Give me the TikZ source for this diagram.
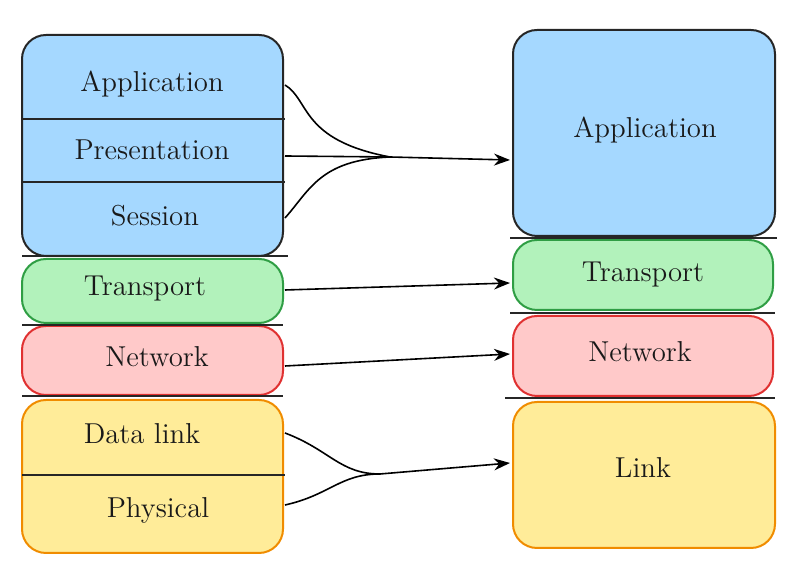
\documentclass[tikz,border=0pt]{standalone}
\usepackage{tikz}
\usetikzlibrary{arrows.meta}
\definecolor{appfill}{HTML}{A5D8FF}
\definecolor{trfill}{HTML}{B2F2BB}
\definecolor{trline}{HTML}{2F9E44}
\definecolor{netfill}{HTML}{FFC9C9}
\definecolor{netline}{HTML}{E03131}
\definecolor{linkfill}{HTML}{FFEC99}
\definecolor{linkline}{HTML}{F08C00}
\tikzstyle{layer} = [rounded corners=12, line width=1pt]
\tikzstyle{layertext} = [font=\Large, text=black!90]
\tikzstyle{sep} = [line width=0.8pt, black!85]
\tikzstyle{arrow} = [line width=0.8pt,-{Stealth[length=8pt,width=6pt]}]

\begin{document}
\begin{tikzpicture}[x=0.5pt,y=-0.5pt]
\useasboundingbox (0,0) rectangle (800,565);

% OSI column
\draw [layer, fill=appfill, draw=black!85] (22,35) rectangle (283,256);
\draw [layer, fill=trfill, draw=trline] (22,259) rectangle (283,323);
\draw [layer, fill=netfill, draw=netline] (22,326) rectangle (283,395);
\draw [layer, fill=linkfill, draw=linkline] (22,400) rectangle (283,553);
\draw [sep] (22,119) -- (285,119);
\draw [sep] (22,182) -- (285,182);
\draw [sep] (22,256) -- (288,256);
\draw [sep] (22,325) -- (283,325);
\draw [sep] (22,396) -- (283,396);
\draw [sep] (22,475) -- (285,475);

\node (app) [layertext] at (152,84) {Application};
\node (pres) [layertext] at (152,150) {Presentation};
\node (sess) [layertext] at (155,216) {Session};
\node (tr) [layertext] at (145,289) {Transport};
\node (net) [layertext] at (157,357) {Network};
\node (dl) [layertext] at (142,434) {Data link};
\node (phy) [layertext] at (158,510) {Physical};

% TCP/IP column
\draw [layer, fill=appfill, draw=black!85] (513,30) rectangle (775,236);
\draw [layer, fill=trfill, draw=trline] (513,240) rectangle (773,310);
\draw [layer, fill=netfill, draw=netline] (513,316) rectangle (773,396);
\draw [layer, fill=linkfill, draw=linkline] (513,402) rectangle (775,548);
\draw [sep] (510,238) -- (777,238);
\draw [sep] (510,313) -- (775,313);
\draw [sep] (505,398) -- (775,398);

\node (tapp) [layertext] at (645,130) {Application};
\node (ttr) [layertext] at (643,275) {Transport};
\node (tnet) [layertext] at (640,352) {Network};
\node (tlink) [layertext] at (643,468) {Link};

% connectors
\coordinate (appE) at (285,85);
\coordinate (presE) at (285,156);
\coordinate (sessE) at (285,218);
\coordinate (upm) at (390,157);
\coordinate (tappW) at (510,160);
\coordinate (trE) at (285,290);
\coordinate (ttrW) at (510,283);
\coordinate (netE) at (285,366);
\coordinate (tnetW) at (510,354);
\coordinate (dlE) at (285,433);
\coordinate (phyE) at (285,505);
\coordinate (lowm) at (380,474);
\coordinate (tlinkW) at (510,463);

\draw [line width=0.8pt] (appE) .. controls (310,100) and (300,140) .. (upm);
\draw [line width=0.8pt] (presE) -- (upm);
\draw [line width=0.8pt] (sessE) .. controls (310,190) and (320,160) .. (upm);
\draw [arrow] (upm) -- (tappW);
\draw [arrow] (trE) -- (ttrW);
\draw [arrow] (netE) -- (tnetW);
\draw [line width=0.8pt] (dlE) .. controls (330,450) and (340,474) .. (lowm);
\draw [line width=0.8pt] (phyE) .. controls (330,495) and (340,474) .. (lowm);
\draw [arrow] (lowm) -- (tlinkW);

\end{tikzpicture}
\end{document}
